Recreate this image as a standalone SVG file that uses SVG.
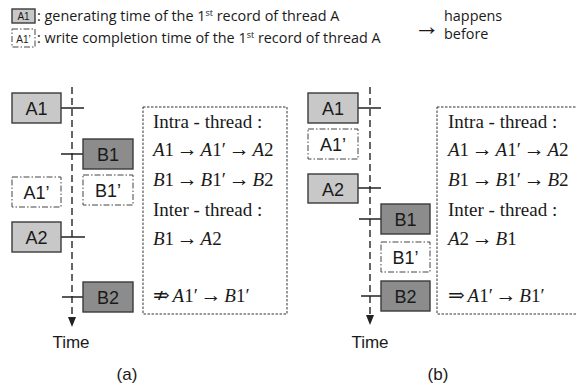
<svg xmlns="http://www.w3.org/2000/svg" width="577" height="383" viewBox="0 0 577 383">
<defs>
<style>
.ga{fill:#c8c8c8;stroke:#3a3a3a;stroke-width:1.4}
.gb{fill:#8c8c8c;stroke:#3a3a3a;stroke-width:1.4}
.dd{fill:#fff;stroke:#444;stroke-width:1;stroke-dasharray:6 2 1.5 2}
.lbl{font-family:"Liberation Sans",Arial,sans-serif;font-size:18px;fill:#1a1a1a;text-anchor:middle}
.axis{stroke:#333;stroke-width:1.5;stroke-dasharray:7 4;fill:none}
.tick{stroke:#222;stroke-width:1.5}
.tb{fill:#fff;stroke:#333;stroke-width:1;stroke-dasharray:2.5 1.5}
.m{font-family:"Liberation Serif","Times New Roman",serif;font-size:19px;fill:#1a1a1a;word-spacing:-2px}
.i{font-style:italic}
.ar{font-family:"Liberation Serif",serif;font-size:21px}
.dar{font-family:"DejaVu Serif",serif;font-size:20px}
.leg{font-family:"Open Sans","Liberation Sans",sans-serif;font-size:14.4px;fill:#1a1a1a}
.cap{font-family:"Liberation Sans",Arial,sans-serif;font-size:17px;fill:#1a1a1a;text-anchor:middle}
</style>
</defs>

<g id="legend">
<rect class="ga" x="12" y="9" width="23" height="14"/>
<text x="23.5" y="20" style="font-family:'Liberation Sans',Arial,sans-serif;font-size:10px;fill:#1a1a1a;text-anchor:middle">A1</text>
<rect class="dd" x="12" y="29" width="23" height="18"/>
<text x="23.5" y="43" style="font-family:'Liberation Sans',Arial,sans-serif;font-size:10px;fill:#1a1a1a;text-anchor:middle">A1’</text>
<text class="leg" x="37" y="21">: generating time of the 1<tspan dy="-5" font-size="9">st</tspan><tspan dy="5"> record of thread A</tspan></text>
<text class="leg" x="37" y="43">: write completion time of the 1<tspan dy="-5" font-size="9">st</tspan><tspan dy="5"> record of thread A</tspan></text>
<text x="414" y="35" style="font-family:'Liberation Serif',serif;font-size:26px;fill:#1a1a1a">→</text>
<text class="leg" x="444" y="21">happens</text>
<text class="leg" x="444" y="39">before</text>
</g>

<g id="connectors">
<line class="axis" x1="72" y1="87" x2="72" y2="318"/>
<polygon points="68,317 76,317 72,327" fill="#222"/>
<line class="tick" x1="61" y1="108" x2="84" y2="108"/>
<line class="tick" x1="61" y1="154" x2="83" y2="154"/>
<line class="tick" x1="61" y1="237" x2="85" y2="237"/>
<line class="tick" x1="62" y1="297" x2="83" y2="297"/>

<line class="axis" x1="370" y1="87" x2="370" y2="316"/>
<polygon points="366,315 374,315 370,325" fill="#222"/>
<line class="tick" x1="358" y1="108" x2="381" y2="108"/>
<line class="tick" x1="358" y1="188" x2="381" y2="188"/>
<line class="tick" x1="359" y1="219" x2="381" y2="219"/>
<line class="tick" x1="361" y1="296" x2="381" y2="296"/>
</g>

<g id="a-A1"><rect class="ga" x="12" y="93" width="49" height="30"/><text class="lbl" x="36.5" y="115">A1</text></g>
<g id="a-B1"><rect class="gb" x="83" y="139" width="50" height="30"/><text class="lbl" x="108" y="161">B1</text></g>
<g id="a-A1p"><rect class="dd" x="12" y="177" width="49" height="30"/><text class="lbl" x="36.5" y="199">A1’</text></g>
<g id="a-B1p"><rect class="dd" x="83" y="175" width="50" height="30"/><text class="lbl" x="108" y="197">B1’</text></g>
<g id="a-A2"><rect class="ga" x="12" y="222" width="49" height="30"/><text class="lbl" x="36.5" y="244">A2</text></g>
<g id="a-B2"><rect class="gb" x="83" y="282" width="50" height="30"/><text class="lbl" x="108" y="304">B2</text></g>

<g id="a-note">
<rect class="tb" x="143" y="107" width="144" height="207"/>
<text class="m" x="153" y="128" style="word-spacing:0">Intra - thread :</text>
<text class="m" x="153" y="156"><tspan class="i">A</tspan>1 <tspan class="ar">→</tspan> <tspan class="i">A</tspan>1′ <tspan class="ar">→</tspan> <tspan class="i">A</tspan>2</text>
<text class="m" x="153" y="186"><tspan class="i">B</tspan>1 <tspan class="ar">→</tspan> <tspan class="i">B</tspan>1′ <tspan class="ar">→</tspan> <tspan class="i">B</tspan>2</text>
<text class="m" x="153" y="216" style="word-spacing:0">Inter - thread :</text>
<text class="m" x="153" y="245"><tspan class="i">B</tspan>1 <tspan class="ar">→</tspan> <tspan class="i">A</tspan>2</text>
<text class="m" x="153" y="302"><tspan class="dar">⇏</tspan> <tspan class="i">A</tspan>1′ <tspan class="ar">→</tspan> <tspan class="i">B</tspan>1′</text>
</g>
<text class="cap" x="71" y="348">Time</text>
<text class="cap" x="127" y="380">(a)</text>

<g id="b-A1"><rect class="ga" x="308" y="93" width="50" height="30"/><text class="lbl" x="333" y="115">A1</text></g>
<g id="b-A1p"><rect class="dd" x="308" y="129" width="50" height="30"/><text class="lbl" x="333" y="151">A1’</text></g>
<g id="b-A2"><rect class="ga" x="308" y="174" width="50" height="29"/><text class="lbl" x="333" y="195.5">A2</text></g>
<g id="b-B1"><rect class="gb" x="381" y="204" width="49" height="30"/><text class="lbl" x="405.5" y="226">B1</text></g>
<g id="b-B1p"><rect class="dd" x="381" y="242" width="49" height="30"/><text class="lbl" x="405.5" y="264">B1’</text></g>
<g id="b-B2"><rect class="gb" x="381" y="281" width="49" height="30"/><text class="lbl" x="405.5" y="303">B2</text></g>

<g id="b-note">
<rect class="tb" x="437" y="107" width="160" height="207"/>
<text class="m" x="448" y="128" style="word-spacing:0">Intra - thread :</text>
<text class="m" x="448" y="156"><tspan class="i">A</tspan>1 <tspan class="ar">→</tspan> <tspan class="i">A</tspan>1′ <tspan class="ar">→</tspan> <tspan class="i">A</tspan>2</text>
<text class="m" x="448" y="186"><tspan class="i">B</tspan>1 <tspan class="ar">→</tspan> <tspan class="i">B</tspan>1′ <tspan class="ar">→</tspan> <tspan class="i">B</tspan>2</text>
<text class="m" x="448" y="216" style="word-spacing:0">Inter - thread :</text>
<text class="m" x="448" y="245"><tspan class="i">A</tspan>2 <tspan class="ar">→</tspan> <tspan class="i">B</tspan>1</text>
<text class="m" x="448" y="302"><tspan class="dar">⇒</tspan> <tspan class="i">A</tspan>1′ <tspan class="ar">→</tspan> <tspan class="i">B</tspan>1′</text>
</g>
<text class="cap" x="370" y="348">Time</text>
<text class="cap" x="438" y="380">(b)</text>
</svg>
